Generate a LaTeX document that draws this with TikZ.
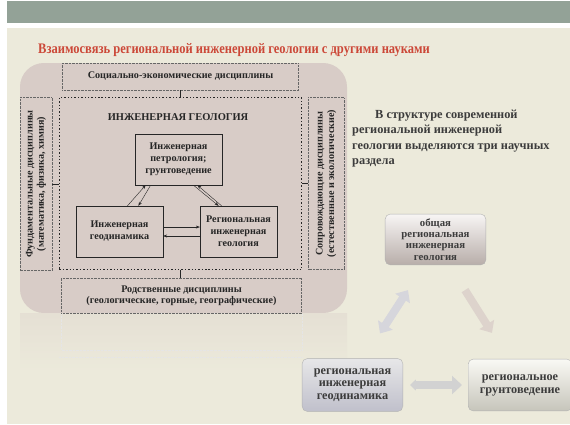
\documentclass[tikz,border=0pt]{standalone}
\usepackage{fontspec}
\setmainfont{Liberation Serif}
\newfontfamily\condfont[FakeStretch=0.86]{Liberation Serif}
\usepackage{xcolor}
\usetikzlibrary{arrows.meta}

\definecolor{barcol}{RGB}{147,162,151}
\definecolor{paper}{RGB}{236,234,219}
\definecolor{panel}{RGB}{216,204,199}
\definecolor{titlered}{RGB}{204,72,56}
\definecolor{ink}{RGB}{38,38,38}
\definecolor{softink}{RGB}{60,60,60}

\begin{document}
\begin{tikzpicture}[x=1bp,y=-1bp,
    disc/.style={draw=gray!80!black, densely dotted, align=center, inner sep=1pt,
      text=ink, font=\bfseries\fontsize{10.2}{11.5}\selectfont},
    part/.style={draw=ink, semithick, align=center, inner sep=2pt,
      text=ink, font=\bfseries\fontsize{10.2}{12}\selectfont},
    link/.style={draw=ink, thin},
    arr/.style={draw=ink, thin, -{Stealth[length=4pt,width=3pt]}},
    sect/.style={draw=gray!60, rounded corners=5pt, align=center, inner sep=1pt,
      text=softink, font=\bfseries\fontsize{10.8}{11.3}\selectfont},
    fat/.style={line width=8pt, {Triangle[length=10pt,width=17pt]}-{Triangle[length=10pt,width=17pt]}}]

        \useasboundingbox (0,0) rectangle (570,424);

        %% Slide background
        \fill[white] (0,0) rectangle (570,424);
        \fill[barcol] (7,1) rectangle (570,23);
        \fill[paper] (7,28) rectangle (570,424);

        \node[anchor=base west, inner sep=0pt, text=titlered, font=\condfont\bfseries\fontsize{14.6}{16}\selectfont] (title) at (38,53) {Взаимосвязь региональной инженерной геологии с другими науками};

        %% Panel and its faint mirror image
        \fill[panel, rounded corners=24pt] (20,63) rectangle (347,313);
        \shade[top color=panel!35!paper, bottom color=paper] (20,313) rectangle (347,372);
        \draw[gray!20, densely dotted] (61,313) rectangle (302,350);
        \draw[gray!20, densely dotted] (59,357) -- (302,357);

        %% Disciplines round the core
        \node[disc, minimum width=237, minimum height=27] (socio) at (180.5,76.5) {Социально-экономические дисциплины};
        \node[draw=ink, line width=1.4pt, dotted, minimum width=243, minimum height=173] (eng) at (180.5,183.5) {};
        \node[disc, rotate=90, minimum width=174, minimum height=32] (fund) at (36,184) {Фундаментальные дисциплины\\(математика, физика, химия)};
        \node[disc, rotate=90, minimum width=173, minimum height=36] (accomp) at (326,183.5) {Сопровождающие дисциплины\\(естественные и экологические)};
        \node[disc, minimum width=241, minimum height=35] (kin) at (181.5,295.5) {Родственные дисциплины\\(геологические, горные, географические)};

        %% Core parts
        \node[text=ink, font=\bfseries\fontsize{10.5}{12}\selectfont] (engtitle) at (178,117) {ИНЖЕНЕРНАЯ ГЕОЛОГИЯ};
        \node[part, minimum width=87, minimum height=51] (petro) at (178.5,159.5) {Инженерная\\петрология;\\грунтоведение};
        \node[part, minimum width=87, minimum height=51] (dyn) at (119.5,231.5) {Инженерная\\геодинамика};
        \node[part, minimum width=77, minimum height=51] (regeng) at (238.5,231.5) {Региональная\\инженерная\\геология};

        %% Ticks
        \draw[link] (socio.south) -- (eng.north);
        \draw[link] (fund.south) -- (fund.south -| eng.west);
        \draw[link] (eng.east) -- (eng.east -| accomp.north);
        \draw[link] (eng.south) -- (eng.south |- kin.north);

        %% Arrows inside
        \draw[arr] ([xshift=8]dyn.north) -- ([xshift=-33]petro.south);
        \draw[arr] ([xshift=-28]petro.south) -- ([xshift=19]dyn.north);
        \draw[arr] ([xshift=-17]regeng.north) -- ([xshift=19]petro.south);
        \draw[arr] ([xshift=15]petro.south) -- ([xshift=-20]regeng.north);
        \draw[arr] ([yshift=4.5]dyn.east) -- ([yshift=4.5]regeng.west);
        \draw[arr] ([yshift=-4.5]regeng.west) -- ([yshift=-4.5]dyn.east);

        %% Right side
        \node[anchor=north west, align=left, inner sep=0pt, text=softink, font=\bfseries\fontsize{12.4}{15.3}\selectfont] (intro) at (352,110) {\hspace{23bp}В структуре современной\\региональной инженерной\\геологии выделяются три научных\\раздела};

        \node[sect, top color=white!80!panel, bottom color=panel!85!black, minimum width=101, minimum height=51] (gen) at (435.5,239.5) {общая\\региональная\\инженерная\\геология};
        \node[sect, top color=white!75!blue!10!gray!20, bottom color=blue!10!gray!45, minimum width=101, minimum height=53, font=\bfseries\fontsize{12.3}{12.7}\selectfont] (geodyn) at (352.5,385) {региональная\\инженерная\\геодинамика};
        \node[sect, top color=white!70!paper, bottom color=gray!35!paper, minimum width=104, minimum height=52, font=\bfseries\fontsize{12.3}{13}\selectfont] (soil) at (520,385) {региональное\\грунтоведение};

        %% Block arrows between the three parts
        \draw[fat, draw=blue!8!gray!30] ([shift={(-23,-25)}]geodyn.north east) -- ([shift={(23,25)}]gen.south west);
        \draw[fat, draw=panel!75!paper, -{Triangle[length=10pt,width=17pt]}] ([shift={(-21,25)}]gen.south east) -- ([shift={(24,-26)}]soil.north west);
        \draw[fat, draw=gray!35, {Triangle[length=6pt,width=11pt]}-{Triangle[length=10pt,width=18pt]}] ([xshift=7]geodyn.east) -- ([xshift=-6]soil.west);
    \end{tikzpicture}
\end{document}
